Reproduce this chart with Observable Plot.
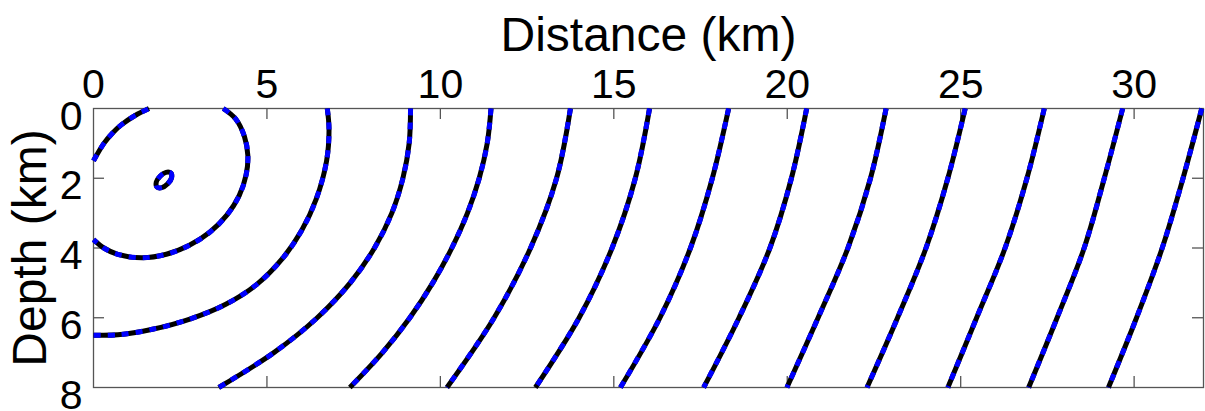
<!DOCTYPE html>
<html>
<head>
<meta charset="utf-8">
<script src="https://cdn.jsdelivr.net/npm/d3@7"></script>
<script src="https://cdn.jsdelivr.net/npm/@observablehq/plot@0.6"></script>
<style>
  html, body { margin: 0; padding: 0; background: #fff; }
  #chart svg { display: block; }
</style>
</head>
<body>
<div id="chart"></div>
<script>
// Traveltime fronts from a point source: distance (km) across, depth (km) down.
const xTickLabels = [0, 5, 10, 15, 20, 25, 30];
const yTickLabels = [0, 2, 4, 6, 8];
const xInnerTicks = [5, 10, 15, 20, 25, 30];
const yInnerTicks = [2, 4, 6];

// Fronts close to the source, as [distance, depth] points
const sourceLoop = [[2.23, 1.85], [2.25, 1.99], [2.14, 2.16], [1.97, 2.27], [1.83, 2.25], [1.81, 2.11], [1.92, 1.94], [2.09, 1.83]];
const front1 = [[0, 1.5], [0.3, 1.0], [0.55, 0.7], [0.8, 0.47], [1.2, 0.2], [1.6, 0]];
const front2 = [[3.74, 0], [4.1, 0.3], [4.35, 0.8], [4.45, 1.35], [4.4, 1.9], [4.2, 2.5], [3.85, 3.05], [3.35, 3.55], [2.75, 3.93], [2.1, 4.18], [1.4, 4.28], [0.7, 4.18], [0.3, 4.0], [0, 3.76]];
const front3 = [[6.74, 0], [6.79, 0.6], [6.72, 1.5], [6.42, 2.6], [6.0, 3.5], [5.45, 4.3], [4.7, 5.05], [3.8, 5.62], [2.8, 6.03], [1.7, 6.33], [0.7, 6.49], [0, 6.5]];

// Fronts further out: depth levels and the distance where each front crosses them
const depthSteps = [0, 1, 2, 3, 4, 5, 6, 7, 8];
const front4 = [9.14, 9.1, 8.92, 8.6, 8.1, 7.4, 6.45, 5.2, 3.61];
const front5 = [11.46, 11.35, 11.12, 10.78, 10.33, 9.78, 9.12, 8.33, 7.39];

const depthLevels = [0, 2, 4, 6, 8];
const front6 = [13.75, 13.35, 12.6, 11.55, 10.19];
const front7 = [16.03, 15.62, 14.95, 14.0, 12.74];
const front8 = [18.31, 17.84, 17.21, 16.33, 15.19];
const front9 = [20.56, 20.12, 19.5, 18.61, 17.59];
const front10 = [22.85, 22.4, 21.75, 20.89, 19.99];
const front11 = [25.13, 24.63, 24.0, 23.18, 22.3];
const front12 = [27.41, 26.91, 26.28, 25.46, 24.63];
const front13 = [29.67, 29.14, 28.56, 27.78, 26.96];
const front14 = [31.95, 31.41, 30.81, 30.07, 29.26];

// Build one table of open fronts
const rows = [];
const addPairs = (id, pts) => pts.forEach(([x, z]) => rows.push({id, x, z}));
const addColumn = (id, xs, zs) => xs.forEach((x, i) => rows.push({id, x, z: zs[i]}));
addPairs("f1", front1);
addPairs("f2", front2);
addPairs("f3", front3);
addColumn("f4", front4, depthSteps);
addColumn("f5", front5, depthSteps);
[front6, front7, front8, front9, front10, front11, front12, front13, front14]
  .forEach((f, k) => addColumn("f" + (k + 6), f, depthLevels));
const loopRows = sourceLoop.map(([x, z]) => ({x, z}));

const W = 1205, H = 411;
const mL = 93, mR = 2, mT = 108, mB = 24;
const frameW = W - mL - mR, frameH = H - mT - mB;
const tickLen = 11;
const axisGray = "#555";
const lineW = 5;
const solid = {x: "x", y: "z", stroke: "#000", strokeWidth: lineW, strokeLinecap: "butt", strokeLinejoin: "round"};
const dashed = {x: "x", y: "z", stroke: "#0000ff", strokeWidth: lineW, strokeLinecap: "butt", strokeDasharray: "7,7"};

const chart = Plot.plot({
  width: W,
  height: H,
  marginLeft: mL,
  marginRight: mR,
  marginTop: mT,
  marginBottom: mB,
  style: {fontFamily: "'Liberation Sans', Arial, Helvetica, sans-serif", color: "#000", background: "#fff", overflow: "visible"},
  x: {domain: [0, 32]},
  y: {domain: [0, 8], reverse: true},
  marks: [
    Plot.frame({stroke: axisGray, strokeWidth: 1.3}),
    // inward ticks on all four sides
    Plot.tickX(xInnerTicks, {x: d => d, insetBottom: frameH - tickLen, stroke: axisGray, strokeWidth: 1.3}),
    Plot.tickX(xInnerTicks, {x: d => d, insetTop: frameH - tickLen, stroke: axisGray, strokeWidth: 1.3}),
    Plot.tickY(yInnerTicks, {y: d => d, insetRight: frameW - tickLen, stroke: axisGray, strokeWidth: 1.3}),
    Plot.tickY(yInnerTicks, {y: d => d, insetLeft: frameW - tickLen, stroke: axisGray, strokeWidth: 1.3}),
    Plot.axisX({anchor: "top", ticks: xTickLabels, tickSize: 0, tickPadding: 11, fontSize: 41, label: null}),
    Plot.axisY({anchor: "left", ticks: yTickLabels, tickSize: 0, tickPadding: 11, fontSize: 41, dy: 8, label: null}),
    Plot.text(["Distance (km)"], {frameAnchor: "top", lineAnchor: "bottom", dy: 50 - mT, fontSize: 48, text: d => d}),
    Plot.text(["Depth (km)"], {frameAnchor: "left", textAnchor: "middle", lineAnchor: "bottom", rotate: -90, dx: 45 - mL, fontSize: 48, text: d => d}),
    // fronts: solid black with a blue dashed overlay
    Plot.line(rows, {...solid, z: "id", curve: "catmull-rom"}),
    Plot.line(rows, {...dashed, z: "id", curve: "catmull-rom"}),
    Plot.line(loopRows, {...solid, curve: "catmull-rom-closed"}),
    Plot.line(loopRows, {...dashed, curve: "catmull-rom-closed"})
  ]
});
document.getElementById("chart").appendChild(chart);
</script>
</body>
</html>
